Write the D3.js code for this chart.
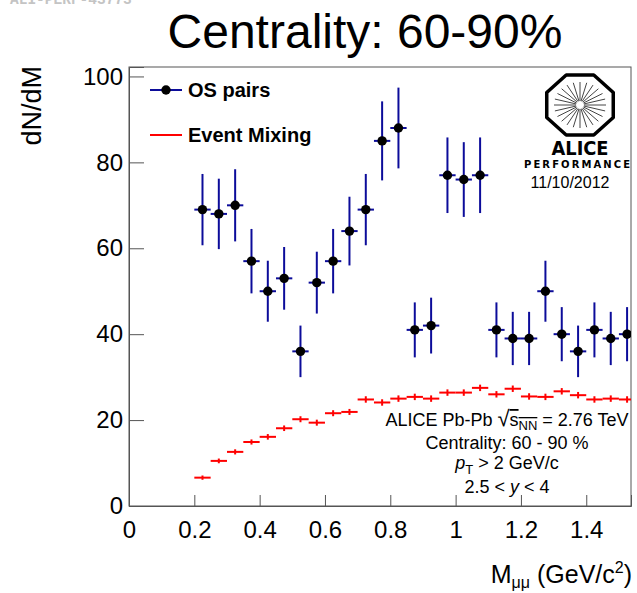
<!DOCTYPE html>
<html>
<head>
<meta charset="utf-8">
<script src="https://cdn.jsdelivr.net/npm/d3@7"></script>
<style>
    body { margin: 0; background: white; }
    svg { display: block; font-family: "Liberation Sans", Arial, Helvetica, sans-serif; }
</style>
</head>
<body>
<div id="chart"></div>
<script>
// bin centres (GeV/c^2)
const binCenters = [0.225, 0.275, 0.325, 0.375, 0.425, 0.475, 0.525, 0.575, 0.625, 0.675,
    0.725, 0.775, 0.825, 0.875, 0.925, 0.975, 1.025, 1.075, 1.125, 1.175,
    1.225, 1.275, 1.325, 1.375, 1.425, 1.475, 1.525];
const binHalfWidth = 0.025;

// opposite-sign pairs
const osValues = [69, 68, 70, 57, 50, 53, 36, 52, 57, 64,
    69, 85, 88, 41, 42, 77, 76, 77, 41, 39,
    39, 50, 40, 36, 41, 39, 40];
const osErrors = [8.3, 8.2, 8.4, 7.5, 7.1, 7.3, 6.0, 7.2, 7.5, 8.0,
    8.3, 9.2, 9.4, 6.4, 6.5, 8.8, 8.7, 8.8, 6.4, 6.2,
    6.2, 7.1, 6.3, 6.0, 6.4, 6.2, 6.3];

// event mixing
const emValues = [6.6, 10.5, 12.6, 14.9, 16.1, 18.1, 20.2, 19.4, 21.6, 21.9,
    24.8, 24.1, 25.0, 25.4, 25.0, 26.4, 26.4, 27.5, 26.0, 27.3,
    25.5, 25.4, 26.7, 25.8, 24.8, 25.0, 24.8];
const emErrors = [0.5, 0.55, 0.6, 0.6, 0.65, 0.65, 0.7, 0.7, 0.7, 0.7,
    0.75, 0.75, 0.75, 0.75, 0.75, 0.75, 0.75, 0.75, 0.75, 0.75,
    0.75, 0.75, 0.75, 0.75, 0.75, 0.75, 0.75];

const xTicks = [0, 0.2, 0.4, 0.6, 0.8, 1.0, 1.2, 1.4];
const xTickLabels = ["0", "0.2", "0.4", "0.6", "0.8", "1", "1.2", "1.4"];
const yTicks = [0, 20, 40, 60, 80, 100];
const yTickLabels = ["0", "20", "40", "60", "80", "100"];

const width = 637, height = 593;
const frame = { left: 129, right: 631, top: 67, bottom: 506 };
const blue = "#0c0c9a";

const x = d3.scaleLinear().domain([0, 1.537]).range([frame.left, frame.right]);
const y = d3.scaleLinear().domain([0, 102.2]).range([frame.bottom, frame.top]);

const svg = d3.select("#chart").append("svg")
    .attr("width", width)
    .attr("height", height);

// watermark, cut at the top edge like in the original
svg.append("text")
    .attr("x", 10).attr("y", 4)
    .style("font-family", "'Liberation Mono', 'DejaVu Sans Mono', monospace")
    .style("font-size", "14.5px")
    .style("font-weight", "bold")
    .attr("fill", "#c4c4c4")
    .text("ALI-PERF-43773");

// title
svg.append("text")
    .attr("x", 365).attr("y", 48)
    .attr("text-anchor", "middle")
    .style("font-size", "48px")
    .text("Centrality: 60-90%");

// frame
svg.append("rect")
    .attr("x", frame.left).attr("y", frame.top)
    .attr("width", frame.right - frame.left)
    .attr("height", frame.bottom - frame.top)
    .attr("fill", "none")
    .attr("stroke", "#555")
    .attr("stroke-width", 1);

// minor ticks
const xMinor = d3.range(0, 1.52, 0.05);
const yMinor = d3.range(0, 101, 5);

const xAxisG = svg.append("g").attr("transform", `translate(0,${frame.bottom})`);
xAxisG.call(d3.axisBottom(x).tickValues(xMinor).tickSize(-5.5).tickFormat(""));
xAxisG.call(d3.axisBottom(x).tickValues(xTicks).tickSize(-11).tickPadding(15)
    .tickFormat((d, i) => xTickLabels[i]));

const yAxisG = svg.append("g").attr("transform", `translate(${frame.left},0)`);
yAxisG.call(d3.axisLeft(y).tickValues(yMinor).tickSize(-7.5).tickFormat(""));
yAxisG.call(d3.axisLeft(y).tickValues(yTicks).tickSize(-15).tickPadding(6)
    .tickFormat((d, i) => yTickLabels[i]));

svg.selectAll(".domain").attr("stroke", "#555");
svg.selectAll(".tick line").attr("stroke", "#555");
svg.selectAll(".tick text")
    .attr("fill", "#000")
    .style("font-family", "'Liberation Sans', Arial, sans-serif")
    .style("font-size", "24px");

// axis titles
svg.append("text")
    .attr("transform", "translate(41,66) rotate(-90)")
    .attr("text-anchor", "end")
    .style("font-size", "27px")
    .text("dN/dM");

const xTitle = svg.append("text")
    .attr("x", 632).attr("y", 583)
    .attr("text-anchor", "end")
    .style("font-size", "25px");
xTitle.append("tspan").text("M");
xTitle.append("tspan").attr("dy", 5).style("font-size", "16px").text("μμ");
xTitle.append("tspan").attr("dy", -5).text(" (GeV/c");
xTitle.append("tspan").attr("dy", -10).style("font-size", "16px").text("2");
xTitle.append("tspan").attr("dy", 10).text(")");

// data marks
const os = binCenters.map((c, i) => ({ x: c, v: osValues[i], e: osErrors[i] }));
const em = binCenters.map((c, i) => ({ x: c, v: emValues[i], e: emErrors[i] }));

svg.append("clipPath").attr("id", "clip")
    .append("rect")
    .attr("x", frame.left).attr("y", frame.top)
    .attr("width", frame.right - frame.left)
    .attr("height", frame.bottom - frame.top);

const plot = svg.append("g").attr("clip-path", "url(#clip)");

// event mixing crosses
const emG = plot.append("g").attr("stroke", "#ff0000").attr("stroke-width", 2);
emG.selectAll(".emh").data(em).enter().append("line")
    .attr("x1", d => x(d.x - binHalfWidth)).attr("x2", d => x(d.x + binHalfWidth))
    .attr("y1", d => y(d.v)).attr("y2", d => y(d.v));
emG.selectAll(".emv").data(em).enter().append("line")
    .attr("x1", d => x(d.x)).attr("x2", d => x(d.x))
    .attr("y1", d => y(d.v - d.e)).attr("y2", d => y(d.v + d.e));

// OS pairs error bars and markers
const osG = plot.append("g").attr("stroke", blue).attr("stroke-width", 2);
osG.selectAll(".osh").data(os).enter().append("line")
    .attr("x1", d => x(d.x - binHalfWidth)).attr("x2", d => x(d.x + binHalfWidth))
    .attr("y1", d => y(d.v)).attr("y2", d => y(d.v));
osG.selectAll(".osv").data(os).enter().append("line")
    .attr("x1", d => x(d.x)).attr("x2", d => x(d.x))
    .attr("y1", d => y(d.v - d.e)).attr("y2", d => y(d.v + d.e));
plot.selectAll(".osm").data(os).enter().append("circle")
    .attr("cx", d => x(d.x)).attr("cy", d => y(d.v))
    .attr("r", 4.7)
    .attr("fill", "#000");

// legend
const legend = svg.append("g");
legend.append("line").attr("x1", 150).attr("x2", 182).attr("y1", 90).attr("y2", 90)
    .attr("stroke", blue).attr("stroke-width", 2);
legend.append("circle").attr("cx", 166).attr("cy", 90).attr("r", 4.7).attr("fill", "#000");
legend.append("text").attr("x", 188).attr("y", 96.5)
    .style("font-size", "20px").style("font-weight", "bold").text("OS pairs");
legend.append("line").attr("x1", 150).attr("x2", 182).attr("y1", 135).attr("y2", 135)
    .attr("stroke", "#ff0000").attr("stroke-width", 2);
legend.append("text").attr("x", 188).attr("y", 141.5)
    .style("font-size", "20px").style("font-weight", "bold").text("Event Mixing");

// ALICE performance logo
const logo = svg.append("g");
const cx = 580, cy = 105, rx = 36, ry = 32.5;
const octagon = d3.range(8).map(k => {
    const a = (22.5 + k * 45) * Math.PI / 180;
    return [cx + rx * Math.cos(a), cy + ry * Math.sin(a)];
});
logo.append("polygon")
    .attr("points", octagon.map(p => p.join(",")).join(" "))
    .attr("fill", "none").attr("stroke", "#000").attr("stroke-width", 3.5)
    .attr("stroke-linejoin", "round");
logo.selectAll(".spoke").data(d3.range(24)).enter().append("line")
    .attr("x1", k => cx + 4 * Math.cos(k * Math.PI / 12))
    .attr("y1", k => cy + 4 * Math.sin(k * Math.PI / 12))
    .attr("x2", k => cx + 26 * Math.cos(k * Math.PI / 12))
    .attr("y2", k => cy + 23 * Math.sin(k * Math.PI / 12))
    .attr("stroke", "#444").attr("stroke-width", 1);
logo.append("text").attr("x", 580).attr("y", 154.5).attr("text-anchor", "middle")
    .style("font-family", "'DejaVu Sans', sans-serif")
    .style("font-size", "19px").style("font-weight", "bold")
    .attr("textLength", 57).attr("lengthAdjust", "spacingAndGlyphs")
    .text("ALICE");
logo.append("text").attr("x", 577).attr("y", 167.5).attr("text-anchor", "middle")
    .style("font-family", "'DejaVu Sans', sans-serif")
    .style("font-size", "10px").style("font-weight", "bold")
    .attr("textLength", 106).attr("lengthAdjust", "spacing")
    .text("PERFORMANCE");
logo.append("text").attr("x", 570).attr("y", 188).attr("text-anchor", "middle")
    .style("font-size", "16px")
    .text("11/10/2012");

// info text
const info = svg.append("g").attr("text-anchor", "middle").style("font-size", "18px");
const l1 = info.append("text").attr("x", 507).attr("y", 426);
l1.append("tspan").text("ALICE Pb-Pb ");
l1.append("tspan").style("font-size", "22px").text("√");
l1.append("tspan").style("text-decoration", "overline").text("s");
l1.append("tspan").attr("dy", 4).style("font-size", "13px").style("text-decoration", "overline").text("NN");
l1.append("tspan").attr("dy", -4).text(" = 2.76 TeV");

info.append("text").attr("x", 507).attr("y", 449).text("Centrality: 60 - 90 %");

const l3 = info.append("text").attr("x", 507).attr("y", 469);
l3.append("tspan").style("font-style", "italic").text("p");
l3.append("tspan").attr("dy", 5).style("font-size", "13px").text("T");
l3.append("tspan").attr("dy", -5).text(" > 2 GeV/c");

const l4 = info.append("text").attr("x", 507).attr("y", 493);
l4.append("tspan").text("2.5 < ");
l4.append("tspan").style("font-style", "italic").text("y");
l4.append("tspan").text(" < 4");
</script>
</body>
</html>
